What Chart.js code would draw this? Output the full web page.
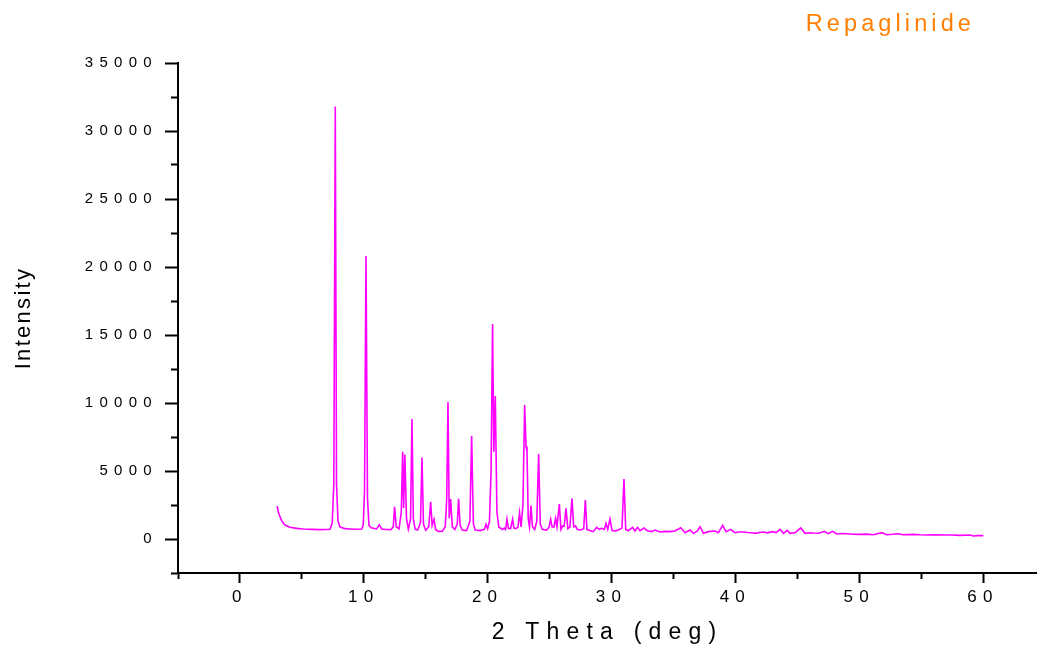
<!DOCTYPE html>
<html>
<head>
<meta charset="utf-8">
<script src="https://cdn.jsdelivr.net/npm/chart.js@4/dist/chart.umd.min.js"></script>
<style>
html, body { margin: 0; padding: 0; background: #ffffff; }
#wrap { width: 1037px; height: 652px; position: relative; }
</style>
</head>
<body>
<div id="wrap"><canvas id="c"></canvas></div>
<script>
// ---- data ----
const chartTitle = 'Repaglinide';
const xAxisTitle = '2 Theta (deg)';
const yAxisTitle = 'Intensity';
const xTickLabels = [0, 10, 20, 30, 40, 50, 60];
const yTickLabels = [0, 5000, 10000, 15000, 20000, 25000, 30000, 35000];

const twoTheta = [
  3.01, 3.10, 3.18, 3.37, 3.63, 4.04, 4.60, 5.11, 5.80, 6.46,
  7.00, 7.27, 7.45, 7.58, 7.70, 7.80, 7.92, 8.08, 8.50, 8.88,
  9.40, 9.83, 9.96, 10.06, 10.18, 10.30, 10.42, 10.60, 11.04, 11.25,
  11.44, 11.80, 12.20, 12.38, 12.49, 12.62, 12.85, 13.03, 13.14, 13.22,
  13.32, 13.45, 13.60, 13.78, 13.89, 14.00, 14.15, 14.35, 14.58, 14.70,
  14.82, 15.00, 15.25, 15.40, 15.52, 15.67, 15.80, 16.00, 16.35, 16.58,
  16.70, 16.80, 16.90, 17.01, 17.15, 17.35, 17.55, 17.66, 17.78, 17.95,
  18.30, 18.57, 18.71, 18.85, 19.00, 19.40, 19.75, 19.87, 20.00, 20.15,
  20.28, 20.40, 20.50, 20.62, 20.75, 20.90, 21.20, 21.35, 21.45, 21.56,
  21.68, 21.85, 22.02, 22.12, 22.30, 22.45, 22.58, 22.70, 22.85, 22.99,
  23.10, 23.18, 23.28, 23.38, 23.50, 23.62, 23.80, 23.97, 24.12, 24.25,
  24.41, 24.76, 24.95, 25.09, 25.20, 25.35, 25.49, 25.60, 25.79, 25.92,
  26.05, 26.18, 26.33, 26.48, 26.65, 26.81, 26.95, 27.10, 27.25, 27.50,
  27.76, 27.89, 28.02, 28.30, 28.53, 28.80, 29.02, 29.20, 29.42, 29.56,
  29.70, 29.88, 30.05, 30.30, 30.55, 30.85, 31.01, 31.15, 31.36, 31.71,
  31.90, 32.11, 32.30, 32.63, 32.89, 33.25, 33.51, 33.92, 34.30, 34.72,
  35.13, 35.59, 35.94, 36.34, 36.61, 36.90, 37.15, 37.42, 37.82, 38.36,
  38.63, 38.98, 39.25, 39.62, 39.97, 40.30, 40.65, 41.00, 41.32, 41.60,
  41.95, 42.26, 42.60, 42.99, 43.30, 43.61, 43.88, 44.20, 44.42, 44.85,
  45.28, 45.63, 46.00, 46.30, 46.75, 47.19, 47.51, 47.86, 48.18, 48.60,
  48.99, 49.50, 50.06, 50.60, 51.14, 51.84, 52.21, 52.70, 53.16, 53.56,
  54.37, 54.90, 55.44, 56.10, 56.79, 57.50, 58.13, 58.94, 59.21, 59.60, 60.03
];

const intensity = [
  2425, 2000, 1760, 1350, 1030, 860, 780, 735, 710, 690,
  700, 720, 1150, 4000, 31800, 4000, 1300, 880, 760, 740,
  720, 730, 1030, 3500, 20800, 3000, 1000, 830, 740, 1050,
  740, 700, 690, 900, 2375, 900, 750, 2000, 6420, 2280,
  6220, 1500, 720, 1500, 8820, 1500, 720, 660, 1200, 6000,
  1100, 640, 900, 2740, 1000, 1450, 700, 560, 580, 900,
  3000, 10070, 1520, 2940, 900, 700, 1100, 2960, 1000, 660,
  620, 1300, 7570, 1100, 660, 620, 720, 1080, 760, 1300,
  5000, 15800, 6420, 10510, 2000, 880, 700, 800, 700, 1470,
  780, 760, 1470, 800, 760, 880, 1935, 880, 2500, 9850,
  6800, 6420, 1500, 900, 2450, 900, 700, 1300, 6250, 1100,
  710, 660, 850, 1450, 900, 880, 1520, 900, 2570, 700,
  950, 950, 2250, 760, 900, 2990, 900, 950, 700, 660,
  750, 2870, 700, 610, 540, 860, 710, 785, 700, 1150,
  720, 1470, 620, 600, 660, 800, 4410, 700, 610, 860,
  590, 860, 610, 810, 610, 540, 660, 515, 560, 540,
  590, 830, 465, 660, 417, 560, 900, 417, 540, 590,
  465, 1000, 540, 710, 465, 520, 515, 480, 465, 417,
  480, 515, 450, 540, 470, 710, 417, 635, 417, 480,
  810, 417, 460, 440, 420, 565, 390, 565, 370, 400,
  390, 350, 340, 360, 318, 465, 318, 350, 390, 318,
  340, 310, 294, 310, 294, 290, 270, 294, 220, 250, 245
];

// ---- text letter spacing (the reference uses widely spaced glyphs) ----
const FONT = "'Liberation Sans', Arial, sans-serif";
const SPACING = { '15': 6.3, '17': 6.2, '23': 7.2, '22': 2.3, '23.5': 4.1 };
function spacingFor(font) {
  const m = /(\d+(?:\.\d+)?)px/.exec(font);
  return (m && SPACING[m[1]] !== undefined) ? SPACING[m[1]] : 0;
}
const canvas = document.getElementById('c');
const c2d = canvas.getContext('2d');
const origFill = c2d.fillText.bind(c2d);
const origMeasure = c2d.measureText.bind(c2d);
c2d.fillText = function (t, x, y, w) {
  c2d.letterSpacing = spacingFor(c2d.font) + 'px';
  return (w === undefined) ? origFill(t, x, y) : origFill(t, x, y, w);
};
c2d.measureText = function (t) {
  c2d.letterSpacing = spacingFor(c2d.font) + 'px';
  return origMeasure(t);
};

const points = twoTheta.map((x, i) => ({ x: x, y: intensity[i] }));

const titlePlace = {
  id: 'titlePlace',
  afterLayout(chart) {
    if (chart.titleBlock) { chart.titleBlock.right = chart.width - 62; }
  }
};

new Chart(c2d, {
  type: 'line',
  data: {
    datasets: [{
      label: chartTitle,
      data: points,
      borderColor: '#ff00ff',
      backgroundColor: '#ff00ff',
      borderWidth: 1.6,
      pointRadius: 0,
      tension: 0,
      fill: false
    }]
  },
  options: {
    responsive: true,
    maintainAspectRatio: false,
    animation: false,
    devicePixelRatio: 1,
    layout: { padding: 0 },
    plugins: {
      legend: { display: false },
      tooltip: { enabled: false },
      title: {
        display: true,
        text: chartTitle,
        align: 'end',
        color: '#ff8000',
        font: { family: FONT, size: 23.5, weight: 'normal' },
        padding: { top: 10, bottom: 24.8 }
      }
    },
    scales: {
      x: {
        type: 'linear',
        min: -5,
        max: 64.36,
        afterFit: s => { s.height = 79; },
        border: { display: true, color: '#000', width: 2 },
        grid: {
          drawOnChartArea: false,
          drawTicks: true,
          tickLength: 10,
          tickWidth: 2,
          tickColor: '#000',
          tickBorderDash: ctx => (ctx.tick && ctx.tick.value % 10 === 0) ? [] : [5, 100]
        },
        ticks: {
          stepSize: 5,
          includeBounds: false,
          autoSkip: false,
          maxRotation: 0,
          padding: 4,
          color: '#000',
          font: { family: FONT, size: 17 },
          callback: v => xTickLabels.includes(v) ? String(v) : ''
        },
        title: {
          display: true,
          text: xAxisTitle,
          color: '#000',
          font: { family: FONT, size: 23 },
          padding: { top: 0, bottom: 5.5 }
        }
      },
      y: {
        type: 'linear',
        min: -2500,
        max: 35000,
        afterFit: s => { s.width = 178; },
        border: { display: true, color: '#000', width: 2 },
        grid: {
          drawOnChartArea: false,
          drawTicks: true,
          tickLength: 13,
          tickWidth: 2,
          tickColor: '#000',
          tickBorderDash: ctx => (ctx.tick && ctx.tick.value % 5000 === 0) ? [] : [0, 6, 7, 100]
        },
        ticks: {
          stepSize: 2500,
          autoSkip: false,
          padding: 7,
          color: '#000',
          font: { family: FONT, size: 15 },
          callback: v => yTickLabels.includes(v) ? String(v) : ''
        },
        title: {
          display: true,
          text: yAxisTitle,
          color: '#000',
          font: { family: FONT, size: 22 },
          padding: { top: 11, bottom: 0 }
        }
      }
    }
  },
  plugins: [titlePlace]
});
</script>
</body>
</html>
